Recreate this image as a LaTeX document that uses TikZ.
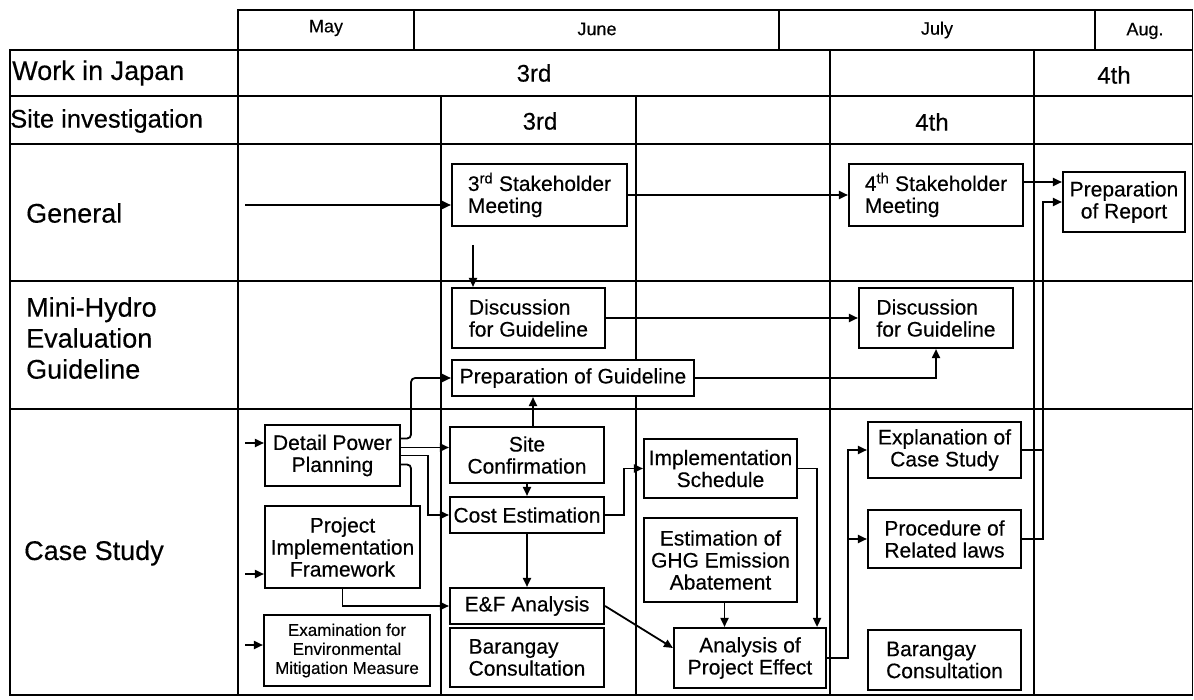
\documentclass[tikz,border=0pt]{standalone}
\usepackage{fontspec}
\setmainfont{Liberation Sans}[UprightFeatures={FakeBold=0.35}]
\usetikzlibrary{arrows.meta}
\newcommand\mybox[7][]{%
  \node[box,#1,minimum width={(#5-#3)*1pt},minimum height={(#6-#4)*1pt}] (#2) at ({(#3+#5)/2},{(#4+#6)/2}) {#7};}
\begin{document}
\begin{tikzpicture}[x=1pt,y=-1pt,
  tbl/.style={line width=2.6pt,line cap=rect},
  box/.style={draw,line width=2.1pt,fill=white,inner sep=0pt,align=center,font=\fontsize{21}{22}\selectfont},
  arr/.style={line width=1.8pt,-{Triangle[length=9pt,width=8pt]}},
  conn/.style={line width=1.8pt},
  hdr/.style={font=\fontsize{27}{31}\selectfont,anchor=west,align=left,inner sep=0pt},
  mon/.style={font=\fontsize{18}{20}\selectfont,inner sep=0pt},
  trip/.style={font=\fontsize{24}{26}\selectfont,inner sep=0pt}]
\useasboundingbox (0,0) rectangle (1194,700);
\fill[white] (0,0) rectangle (1194,700);
% table
\draw[tbl] (238,10) -- (1192,10);
\draw[tbl] (10,50) -- (1192,50);
\draw[tbl] (10,96) -- (1192,96);
\draw[tbl] (10,144) -- (1192,144);
\draw[tbl] (10,281) -- (1192,281);
\draw[tbl] (10,409) -- (1192,409);
\draw[tbl] (10,695) -- (1192,695);
\draw[tbl] (10,50) -- (10,695);
\draw[tbl] (238,10) -- (238,695);
\draw[tbl] (414,10) -- (414,50);
\draw[tbl] (779,10) -- (779,50);
\draw[tbl] (1095,10) -- (1095,50);
\draw[tbl] (830,50) -- (830,695);
\draw[tbl] (1034,50) -- (1034,695);
\draw[tbl] (441,96) -- (441,695);
\draw[tbl] (636,96) -- (636,695);
\draw[line width=1pt] (1192,10) -- (1192,695);
% header texts
\node[mon] (mMay) at (326,28) {May};
\node[mon] (mJun) at (597,29) {June};
\node[mon] (mJul) at (937,30) {July};
\node[mon] (mAug) at (1145,31) {Aug.};
\node[trip] (w3) at (534,73) {3rd};
\node[trip] (w4) at (1114,75) {4th};
\node[trip] (s3) at (540,121) {3rd};
\node[trip] (s4) at (932,122) {4th};
\node[hdr] (hW) at (12,73) {Work in Japan};
\node[hdr,font=\fontsize{25.5}{28}\selectfont] (hS) at (10,121) {Site investigation};
\node[hdr] (hG) at (26,213) {General};
\node[hdr] (hM) at (26,338) {Mini-Hydro\\Evaluation\\Guideline};
\node[hdr] (hC) at (24,553) {Case Study};
% boxes
\mybox[align=left]{stk3}{452}{164}{627}{226}{3\textsuperscript{rd} Stakeholder\\Meeting}
\mybox[align=left]{stk4}{849}{164}{1023}{226}{4\textsuperscript{th} Stakeholder\\Meeting}
\mybox{report}{1063}{172}{1185}{232}{Preparation\\of Report}
\mybox[align=left]{disc3}{452}{288}{605}{348}{Discussion\\for Guideline}
\mybox[align=left]{disc4}{859}{288}{1013}{348}{Discussion\\for Guideline}
\mybox{prep}{452}{360}{694}{396}{Preparation of Guideline}
\mybox{dpp}{265}{425}{400}{486}{Detail Power\\Planning}
\mybox{site}{450}{427}{604}{483}{Site\\Confirmation}
\mybox{cost}{450}{497}{604}{533}{Cost Estimation}
\mybox{pif}{265}{506}{420}{588}{Project\\Implementation\\Framework}
\mybox{ef}{450}{588}{604}{624}{E\&F Analysis}
\mybox[align=left]{bar1}{450}{628}{604}{687}{Barangay\\Consultation}
\mybox[font=\fontsize{17}{19}\selectfont]{exam}{264}{615}{430}{686}{Examination for\\Environmental\\Mitigation Measure}
\mybox{impl}{644}{439}{797}{498}{Implementation\\Schedule}
\mybox{ghg}{644}{518}{797}{602}{Estimation of\\GHG Emission\\Abatement}
\mybox{ana}{674}{628}{826}{688}{Analysis of\\Project Effect}
\mybox{expl}{868}{422}{1021}{478}{Explanation of\\Case Study}
\mybox{proc}{868}{510}{1021}{568}{Procedure of\\Related laws}
\mybox[align=left]{bar2}{868}{630}{1021}{690}{Barangay\\Consultation}
% connectors
\coordinate (gin) at (245,205);
\draw[arr] (gin) -- (gin -| stk3.west);
\draw[arr] (stk3) -- (stk4);
\coordinate (s4o) at ([yshift=13pt]stk4.east);
\draw[arr] (s4o) -- (s4o -| report.west);
\coordinate (dtop) at (473,245);
\draw[arr] (dtop) -- (dtop |- disc3.north);
\draw[arr] (disc3) -- (disc4);
\draw[arr] (prep.east) -| (disc4.south);
\coordinate (su) at ([xshift=6pt]site.north);
\draw[arr] (su) -- (su |- prep.south);
\draw[arr] (site) -- (cost);
\draw[arr] (cost) -- (ef);
\coordinate (d1) at ([yshift=8pt]dpp.east);
\draw[arr] (d1) -- (d1 -| site.west);
\draw[arr] (dpp.east) -- ++(27,0) |- (cost.west);
\coordinate (d2) at ([yshift=17pt]dpp.east);
\draw[arr,rounded corners=4pt] (d2) -- ++(10,0) |- (prep.west);
\draw[conn,rounded corners=4pt] ([xshift=-10pt]pif.north east) |- ([yshift=-9pt]dpp.east);
\draw[arr] (pif.south) |- (ef.west);
\coordinate (i1) at (245,443);
\draw[arr] (i1) -- (i1 -| dpp.west);
\coordinate (i2) at (245,574);
\draw[arr] (i2) -- (i2 -| pif.west);
\coordinate (i3) at (245,645);
\draw[arr] (i3) -- (i3 -| exam.west);
\draw[arr] (cost.east) -- ++(19,0) |- (impl.west);
\draw[arr] (impl.east) -| ([xshift=-10pt]ana.north east);
\coordinate (gs) at ([xshift=4pt]ghg.south);
\draw[arr] (gs) -- (gs |- ana.north);
\draw[arr] (ef.east) -- ([yshift=10pt]ana.west);
\coordinate (ax) at ([xshift=21pt]ana.east);
\draw[arr] (ana.east) -- (ax) |- (expl.west);
\draw[arr] (ax |- proc.west) -- (proc.west);
\coordinate (rx) at ([xshift=21pt]expl.east);
\draw[arr] (expl.east) -- (rx) |- (report.west);
\draw[conn] (proc.east) -| (rx);
\end{tikzpicture}
\end{document}
